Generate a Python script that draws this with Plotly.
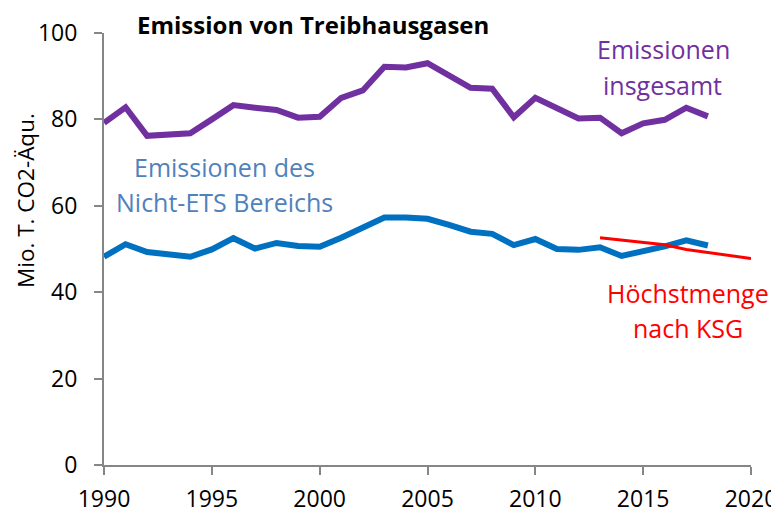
import plotly.graph_objects as go

years = list(range(1990, 2019))
total = [79.2, 82.8, 76.2, 76.4, 76.8, 80.0, 83.3, 82.7, 82.2, 80.4, 80.6,
         85.0, 86.7, 92.2, 92.0, 93.0, 90.0, 87.3, 87.1, 80.5, 85.0, 82.6,
         80.2, 80.4, 76.8, 79.1, 79.9, 82.7, 80.7]
non_ets = [48.2, 51.1, 49.3, 48.9, 48.2, 49.9, 52.5, 50.1, 51.4, 50.7, 50.5,
           52.6, 54.8, 57.3, 57.3, 57.0, 55.6, 54.0, 53.5, 50.9, 52.3, 50.0,
           49.8, 50.4, 48.4, 49.4, 50.6, 52.0, 50.8]
ksg_years = list(range(2013, 2021))
ksg = [52.6, 52.1, 51.5, 51.0, 49.9, 49.2, 48.5, 47.8]

FONT = "Open Sans"
OFF = 8  # page body margin
W, H = 779 - OFF, 513 - OFF
L, R, T, B = 104 - OFF, 28, 33 - OFF, 48

fig = go.Figure()
fig.add_trace(go.Scatter(x=years, y=total, mode="lines",
                         line=dict(color="#7030A0", width=6)))
fig.add_trace(go.Scatter(x=years, y=non_ets, mode="lines",
                         line=dict(color="#0070C0", width=6)))
fig.add_trace(go.Scatter(x=ksg_years, y=ksg, mode="lines",
                         line=dict(color="#FF0000", width=3)))

fig.update_layout(
    width=W, height=H,
    margin=dict(l=L, r=R, t=T, b=B),
    paper_bgcolor="white", plot_bgcolor="white",
    showlegend=False,
    font=dict(family=FONT, size=23, color="black"),
    xaxis=dict(range=[1990, 2020], tickvals=[1990, 1995, 2000, 2005, 2010, 2015, 2020],
               showgrid=False, zeroline=False, showline=True, linecolor="#868686",
               linewidth=2, ticks="outside", ticklen=8, tickwidth=2, tickcolor="#868686",
               tickfont=dict(size=23), ticklabelstandoff=4, automargin=False),
    yaxis=dict(range=[0, 100], tickvals=[0, 20, 40, 60, 80, 100],
               showgrid=False, zeroline=False, showline=True, linecolor="#868686",
               linewidth=2, ticks="outside", ticklen=8, tickwidth=2, tickcolor="#868686",
               tickfont=dict(size=23), ticklabelstandoff=12, automargin=False),
)

# positions in window pixels
anns = [
    dict(text="<b>Emission von Treibhausgasen</b>", x=313, y=24, size=24, color="black"),
    dict(text="Emissionen des", x=224, y=167, size=25, color="#4F81BD"),
    dict(text="Nicht-ETS Bereichs", x=224, y=202, size=25, color="#4F81BD"),
    dict(text="Emissionen", x=663, y=49, size=25, color="#7030A0"),
    dict(text="insgesamt", x=662, y=85, size=25, color="#7030A0"),
    dict(text="Höchstmenge", x=688, y=293, size=25, color="#FF0000"),
    dict(text="nach KSG", x=688, y=328, size=25, color="#FF0000"),
]
PW, PH = W - L - R, H - T - B
for a in anns:
    fig.add_annotation(text=a["text"], xref="paper", yref="paper",
                       x=(a["x"] - OFF - L) / PW,
                       y=1 - (a["y"] - OFF - T) / PH,
                       xanchor="center", yanchor="middle", showarrow=False,
                       font=dict(family=FONT, size=a["size"], color=a["color"]))

fig.add_annotation(text="Mio. T. CO2-Äqu.", xref="paper", yref="paper",
                   x=(26 - OFF - L) / PW, y=1 - (201 - OFF - T) / PH,
                   xanchor="center", yanchor="middle", textangle=-90, showarrow=False,
                   font=dict(family=FONT, size=22.5, color="black"))

fig.write_html("out.html")
